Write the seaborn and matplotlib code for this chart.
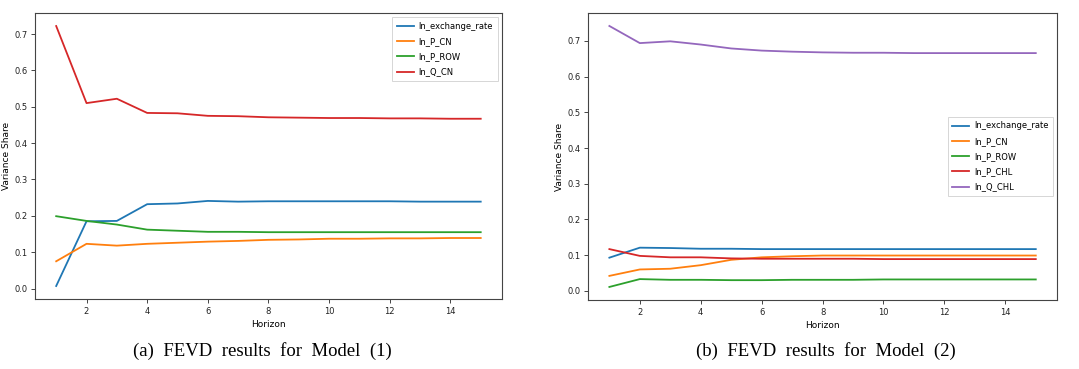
import numpy as np
import pandas as pd
import matplotlib
matplotlib.use("Agg")
import matplotlib.pyplot as plt
import seaborn as sns

horizon = list(range(1, 16))

# Model (1)
m1_exchange_rate = [0.007, 0.185, 0.186, 0.232, 0.234, 0.241, 0.239, 0.240,
                    0.240, 0.240, 0.240, 0.240, 0.239, 0.239, 0.239]
m1_p_cn = [0.075, 0.123, 0.118, 0.123, 0.126, 0.129, 0.131, 0.134,
           0.135, 0.137, 0.137, 0.138, 0.138, 0.139, 0.139]
m1_p_row = [0.199, 0.186, 0.176, 0.162, 0.159, 0.156, 0.156, 0.155,
            0.155, 0.155, 0.155, 0.155, 0.155, 0.155, 0.155]
m1_q_cn = [0.722, 0.510, 0.522, 0.483, 0.482, 0.475, 0.474, 0.471,
           0.470, 0.469, 0.469, 0.468, 0.468, 0.467, 0.467]

# Model (2)
m2_exchange_rate = [0.093, 0.121, 0.120, 0.118, 0.118, 0.117, 0.117, 0.117,
                    0.117, 0.117, 0.117, 0.117, 0.117, 0.117, 0.117]
m2_p_cn = [0.042, 0.060, 0.062, 0.072, 0.087, 0.094, 0.097, 0.099,
           0.099, 0.099, 0.099, 0.099, 0.099, 0.099, 0.099]
m2_p_row = [0.011, 0.033, 0.031, 0.031, 0.030, 0.030, 0.031, 0.031,
            0.031, 0.032, 0.032, 0.032, 0.032, 0.032, 0.032]
m2_p_chl = [0.117, 0.098, 0.094, 0.094, 0.091, 0.090, 0.090, 0.090,
            0.090, 0.089, 0.089, 0.089, 0.089, 0.089, 0.089]
m2_q_chl = [0.742, 0.694, 0.699, 0.690, 0.679, 0.673, 0.670, 0.668,
            0.667, 0.667, 0.666, 0.666, 0.666, 0.666, 0.666]

model1 = {"ln_exchange_rate": m1_exchange_rate, "ln_P_CN": m1_p_cn,
          "ln_P_ROW": m1_p_row, "ln_Q_CN": m1_q_cn}
model2 = {"ln_exchange_rate": m2_exchange_rate, "ln_P_CN": m2_p_cn,
          "ln_P_ROW": m2_p_row, "ln_P_CHL": m2_p_chl, "ln_Q_CHL": m2_q_chl}


def long_form(d):
    df = pd.DataFrame(d, index=horizon)
    df.index.name = "Horizon"
    return df.reset_index().melt(id_vars="Horizon", var_name="var",
                                 value_name="Variance Share")


plt.rcParams["font.family"] = "DejaVu Sans"
plt.rcParams["axes.edgecolor"] = "#444444"
plt.rcParams["xtick.color"] = "#444444"
plt.rcParams["ytick.color"] = "#444444"
plt.rcParams["xtick.labelcolor"] = "#222222"
plt.rcParams["ytick.labelcolor"] = "#222222"

fig = plt.figure(figsize=(10.79, 3.69), dpi=100)
ax1 = fig.add_axes([0.0324, 0.1897, 0.4328, 0.775])
ax2 = fig.add_axes([0.545, 0.187, 0.4347, 0.778])

pal = sns.color_palette("tab10")

for ax, data, loc in [(ax1, model1, "upper right"), (ax2, model2, "center right")]:
    df = long_form(data)
    sns.lineplot(data=df, x="Horizon", y="Variance Share", hue="var",
                 palette=pal[:len(data)], linewidth=1.3, ax=ax)
    ax.set_xticks([2, 4, 6, 8, 10, 12, 14])
    ax.set_yticks(np.arange(0, 0.71, 0.1))
    ax.tick_params(labelsize=6, length=3, width=0.7, pad=2.5)
    ax.set_xlabel("Horizon", fontsize=6.5, labelpad=3)
    ax.set_ylabel("Variance Share", fontsize=6.5, labelpad=2)
    for s in ax.spines.values():
        s.set_linewidth(0.8)
    leg = ax.legend(loc=loc, fontsize=6, frameon=True, fancybox=False,
                    handlelength=2.0, handletextpad=0.6, borderpad=0.55,
                    labelspacing=0.75)
    leg.get_frame().set_edgecolor("#cccccc")
    leg.get_frame().set_linewidth(0.7)

fig.text(0.243, 0.049, "(a)  FEVD  results  for  Model  (1)", ha="center", va="center",
         fontsize=13.5, family="Liberation Serif")
fig.text(0.765, 0.049, "(b)  FEVD  results  for  Model  (2)", ha="center", va="center",
         fontsize=13.5, family="Liberation Serif")

fig.savefig("out.png", dpi=100)
